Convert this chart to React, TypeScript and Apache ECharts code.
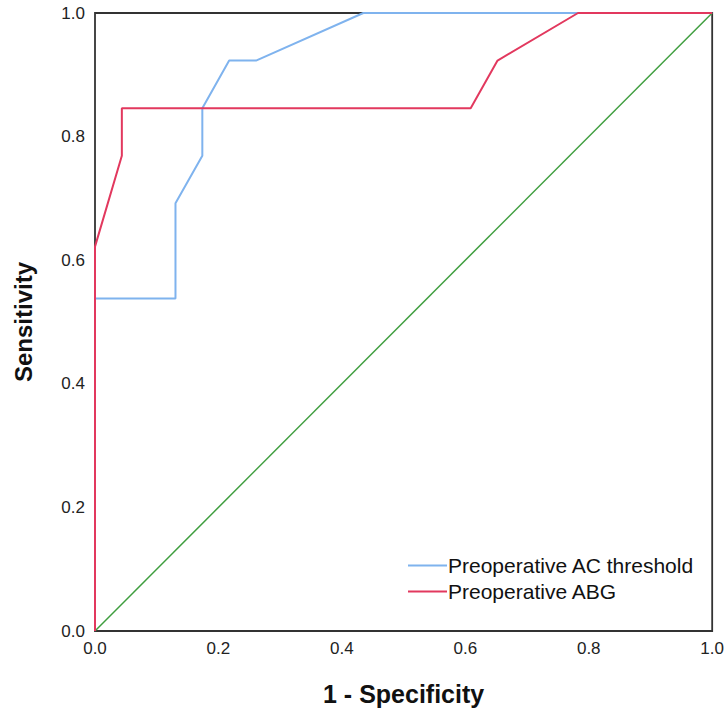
import React, { useEffect, useRef } from "react";
import * as echarts from "echarts";

const xTicks = [0, 0.2, 0.4, 0.6, 0.8, 1.0];
const acThresholdFpr = [0, 0, 0.1304, 0.1304, 0.1739, 0.1739, 0.2174, 0.2609, 0.4348, 1.0];
const acThresholdTpr = [0, 0.538, 0.538, 0.692, 0.769, 0.846, 0.923, 0.923, 1.0, 1.0];
const abgFpr = [0, 0, 0.0435, 0.0435, 0.6087, 0.6522, 0.7826, 1.0];
const abgTpr = [0, 0.622, 0.769, 0.846, 0.846, 0.923, 1.0, 1.0];
const refFpr = [0, 1];
const refTpr = [0, 1];
const seriesNames = ["Preoperative AC threshold", "Preoperative ABG"];

const zip = (xs: number[], ys: number[]) => xs.map((x, i) => [x, ys[i]]);

export default function App() {
  const ref = useRef<HTMLDivElement>(null);
  useEffect(() => {
    document.body.style.margin = "0";
    const chart = echarts.init(ref.current!, null, { renderer: "svg" });
    const font = "Arial, 'Liberation Sans', sans-serif";
    chart.setOption({
      animation: false,
      backgroundColor: "#ffffff",
      grid: {
        left: 95,
        right: 14,
        top: 13,
        bottom: 82,
        show: true,
        borderColor: "#333333",
        borderWidth: 1.8,
        backgroundColor: "transparent",
      },
      xAxis: {
        type: "value",
        min: 0,
        max: 1,
        interval: 0.2,
        name: "1 - Specificity",
        nameLocation: "middle",
        nameGap: 50,
        nameTextStyle: { fontFamily: font, fontSize: 25, fontWeight: "bold", color: "#111" },
        axisLine: { show: false },
        axisTick: { show: false },
        splitLine: { show: false },
        axisLabel: {
          fontFamily: font,
          fontSize: 17,
          color: "#222",
          margin: 9,
          formatter: (v: number) => v.toFixed(1),
        },
      },
      yAxis: {
        type: "value",
        min: 0,
        max: 1,
        interval: 0.2,
        name: "Sensitivity",
        nameLocation: "middle",
        nameGap: 60,
        nameTextStyle: { fontFamily: font, fontSize: 24, fontWeight: "bold", color: "#111" },
        axisLine: { show: false },
        axisTick: { show: false },
        splitLine: { show: false },
        axisLabel: {
          fontFamily: font,
          fontSize: 17,
          color: "#222",
          margin: 10,
          formatter: (v: number) => v.toFixed(1),
        },
      },
      legend: {
        orient: "vertical",
        left: 403,
        top: 550,
        itemWidth: 39,
        itemHeight: 2,
        itemGap: 5,
        icon: "rect",
        data: seriesNames,
        textStyle: { fontFamily: font, fontSize: 21, color: "#111", padding: [0, 0, 0, -4] },
      },
      series: [
        {
          name: "reference",
          type: "line",
          data: zip(refFpr, refTpr),
          symbol: "none",
          lineStyle: { color: "#3f9e3f", width: 1.5 },
          itemStyle: { color: "#3f9e3f" },
          z: 1,
        },
        {
          name: seriesNames[0],
          type: "line",
          data: zip(acThresholdFpr, acThresholdTpr),
          symbol: "none",
          lineStyle: { color: "#7fb3ee", width: 2 },
          itemStyle: { color: "#7fb3ee" },
          z: 2,
        },
        {
          name: seriesNames[1],
          type: "line",
          data: zip(abgFpr, abgTpr),
          symbol: "none",
          lineStyle: { color: "#e2385e", width: 2 },
          itemStyle: { color: "#e2385e" },
          z: 3,
        },
      ],
    });
    return () => chart.dispose();
  }, []);
  return <div ref={ref} style={{ width: 727, height: 713 }} />;
}
